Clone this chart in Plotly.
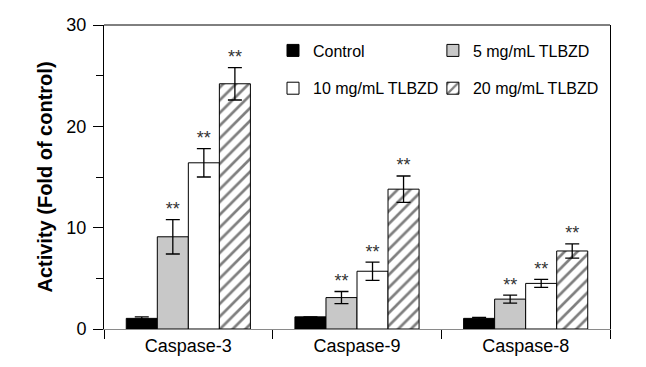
import plotly.graph_objects as go

categories = ["Caspase-3", "Caspase-9", "Caspase-8"]
series_names = ["Control", "5 mg/mL TLBZD", "10 mg/mL TLBZD", "20 mg/mL TLBZD"]
control = [1.05, 1.2, 1.05]
control_err = [0.15, 0.0, 0.1]
tlbzd5 = [9.1, 3.1, 2.95]
tlbzd5_err = [1.7, 0.6, 0.4]
tlbzd10 = [16.4, 5.7, 4.5]
tlbzd10_err = [1.4, 0.9, 0.4]
tlbzd20 = [24.2, 13.8, 7.7]
tlbzd20_err = [1.6, 1.3, 0.7]
stars = ["", "**", "**", "**"]
y_ticks = [0, 10, 20, 30]

values = [control, tlbzd5, tlbzd10, tlbzd20]
errors = [control_err, tlbzd5_err, tlbzd10_err, tlbzd20_err]
fills = ["black", "#c8c8c8", "white", "white"]
legends = ["legend", "legend2", "legend", "legend2"]

FONT = "Arial, Liberation Sans, sans-serif"
W = 0.184
xs = list(range(len(categories)))

fig = go.Figure()
for i, name in enumerate(series_names):
    marker = dict(color=fills[i], line=dict(color="black", width=1))
    if i == 3:
        marker["pattern"] = dict(shape="/", fgcolor="black", bgcolor="white",
                                 size=9, solidity=0.3)
    fig.add_trace(go.Bar(
        x=xs, y=values[i], name=name, width=W, offset=-2 * W + i * W,
        marker=marker, legend=legends[i], legendgroup=name,
        error_y=dict(type="data", array=errors[i], visible=True,
                     color="black", thickness=1.3, width=7),
    ))

for i in range(1, 4):
    fig.add_trace(go.Scatter(
        x=[x - 2 * W + i * W + W / 2 for x in xs],
        y=[v + e for v, e in zip(values[i], errors[i])],
        mode="text", text=[stars[i]] * len(xs), textposition="top center",
        textfont=dict(family=FONT, size=18, color="#333333"),
        showlegend=False, hoverinfo="skip",
    ))

# page body has an 8px margin; compensate so the plot area lands where intended
fig.update_layout(
    width=638, height=359,
    margin=dict(l=96, r=36, t=17, b=38),
    paper_bgcolor="white", plot_bgcolor="white",
    font=dict(family=FONT, color="black"),
    barmode="overlay",
    showlegend=True,
    legend=dict(x=0.334, y=0.972, xanchor="left", yanchor="top",
                font=dict(family=FONT, size=16), bgcolor="rgba(0,0,0,0)",
                tracegroupgap=14, traceorder="grouped"),
    legend2=dict(x=0.650, y=0.972, xanchor="left", yanchor="top",
                 font=dict(family=FONT, size=16), bgcolor="rgba(0,0,0,0)",
                 tracegroupgap=14, traceorder="grouped"),
    xaxis=dict(
        range=[-0.5, 2.5], tickvals=xs, ticktext=categories,
        ticks="", showgrid=False, zeroline=False, automargin=False,
        showline=True, linecolor="#8a8a8a", linewidth=1,
        tickfont=dict(family=FONT, size=18),
        minor=dict(tick0=0.5, dtick=1, ticks="outside", ticklen=9,
                   tickcolor="black", tickwidth=1, showgrid=False),
    ),
    yaxis=dict(
        range=[0, 30], tickvals=y_ticks, ticks="outside", ticklen=10,
        tickcolor="black", showgrid=False, zeroline=False, automargin=False,
        showline=True, linecolor="black", linewidth=1, mirror=True,
        tickfont=dict(family=FONT, size=18), ticklabelstandoff=3,
        minor=dict(dtick=5, ticks="outside", ticklen=7, tickcolor="black",
                   showgrid=False),
        title=dict(text="<b>Activity (Fold of control)</b>",
                   font=dict(family=FONT, size=20), standoff=8),
    ),
    shapes=[dict(type="line", xref="paper", yref="paper", x0=0, x1=1,
                 y0=1, y1=1, line=dict(color="black", width=1))],
)

fig.write_html("out.html")
